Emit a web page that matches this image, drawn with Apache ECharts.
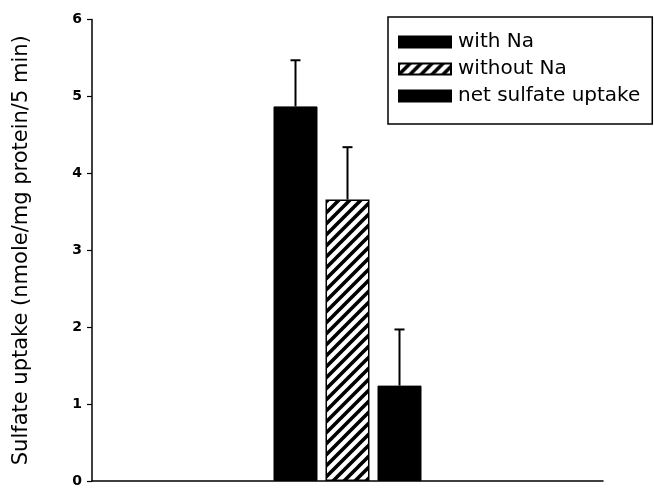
<!DOCTYPE html>
<html>
<head>
<meta charset="utf-8">
<script src="https://cdn.jsdelivr.net/npm/echarts@6/dist/echarts.min.js"></script>
<style>html,body{margin:0;padding:0;background:#fff;}#c{width:654px;height:489px;}</style>
</head>
<body>
<div id="c"></div>
<script>
// ---- data ----
const categories = [''];
const seriesNames = ['with Na', 'without Na', 'net sulfate uptake'];
const withNa = [4.87];
const withoutNa = [3.66];
const netUptake = [1.24];
const withNaErrTop = [5.47];
const withoutNaErrTop = [4.34];
const netUptakeErrTop = [1.97];
const yTicks = [0, 1, 2, 3, 4, 5, 6];

// ---- styles ----
const BAR_W = 44, BAR_GAP = 8;
const FONT = '"DejaVu Sans", "Liberation Sans", Arial, sans-serif';
function hatch() {
  const s = 11;
  const c = document.createElement('canvas');
  c.width = s; c.height = s;
  const g = c.getContext('2d');
  g.fillStyle = '#fff';
  g.fillRect(0, 0, s, s);
  g.strokeStyle = '#000';
  g.lineWidth = 3.6;
  g.beginPath();
  g.moveTo(-s, s); g.lineTo(s, -s);
  g.moveTo(0, s); g.lineTo(s, 0);
  g.moveTo(0, 2 * s); g.lineTo(2 * s, 0);
  g.stroke();
  return { image: c, repeat: 'repeat' };
}
const hatchFill = hatch();

const chart = echarts.init(document.getElementById('c'), null, { renderer: 'canvas' });

function errSeries(idx, tops, vals) {
  return {
    type: 'custom',
    name: seriesNames[idx] + ' err',
    z: 1,
    renderItem: function (params, api) {
      const base = api.coord([api.value(0), api.value(1)]);
      const top = api.coord([api.value(0), api.value(2)]);
      const x = base[0] + (idx - 1) * (BAR_W + BAR_GAP);
      return {
        type: 'group',
        children: [
          { type: 'line', shape: { x1: x, y1: base[1], x2: x, y2: top[1] }, style: { stroke: '#000', lineWidth: 2 } },
          { type: 'line', shape: { x1: x - 5, y1: top[1], x2: x + 5, y2: top[1] }, style: { stroke: '#000', lineWidth: 2 } }
        ]
      };
    },
    data: categories.map(function (c, i) { return [i, vals[i], tops[i]]; })
  };
}

const option = {
  backgroundColor: '#fff',
  animation: false,
  grid: { left: 92, right: 51, top: 19.5, bottom: 8, containLabel: false },
  legend: {
    orient: 'vertical',
    left: 388,
    top: 17,
    data: seriesNames,
    icon: 'rect',
    itemWidth: 52,
    itemHeight: 11,
    itemGap: 7,
    padding: [15, 12, 18, 10],
    borderColor: '#000',
    borderWidth: 1.5,
    textStyle: { fontFamily: FONT, fontSize: 20, color: '#000', padding: [0, 0, 0, 2] }
  },
  xAxis: {
    type: 'category',
    data: categories,
    axisLine: { lineStyle: { color: '#000', width: 1.5 } },
    axisTick: { show: false },
    axisLabel: { show: false }
  },
  yAxis: {
    type: 'value',
    min: yTicks[0],
    max: yTicks[yTicks.length - 1],
    interval: 1,
    name: 'Sulfate uptake (nmole/mg protein/5 min)',
    nameLocation: 'middle',
    nameGap: 60,
    nameTextStyle: { fontFamily: FONT, fontSize: 21, color: '#000' },
    axisLine: { show: true, lineStyle: { color: '#000', width: 1.5 } },
    axisTick: { show: true, length: 5, lineStyle: { color: '#000', width: 1.2 } },
    axisLabel: { fontFamily: FONT, fontSize: 14, fontWeight: 'bold', color: '#000', margin: 10 },
    splitLine: { show: false }
  },
  series: [
    { type: 'bar', name: seriesNames[0], data: withNa, barWidth: BAR_W, barGap: (BAR_GAP / BAR_W * 100) + '%', z: 2,
      itemStyle: { color: '#000', borderColor: '#000', borderWidth: 1 } },
    { type: 'bar', name: seriesNames[1], data: withoutNa, barWidth: BAR_W, barGap: (BAR_GAP / BAR_W * 100) + '%', z: 2,
      itemStyle: { color: hatchFill, borderColor: '#000', borderWidth: 1.5 } },
    { type: 'bar', name: seriesNames[2], data: netUptake, barWidth: BAR_W, barGap: (BAR_GAP / BAR_W * 100) + '%', z: 2,
      itemStyle: { color: '#000', borderColor: '#000', borderWidth: 1 } },
    errSeries(0, withNaErrTop, withNa),
    errSeries(1, withoutNaErrTop, withoutNa),
    errSeries(2, netUptakeErrTop, netUptake)
  ]
};
chart.setOption(option);
</script>
</body>
</html>
